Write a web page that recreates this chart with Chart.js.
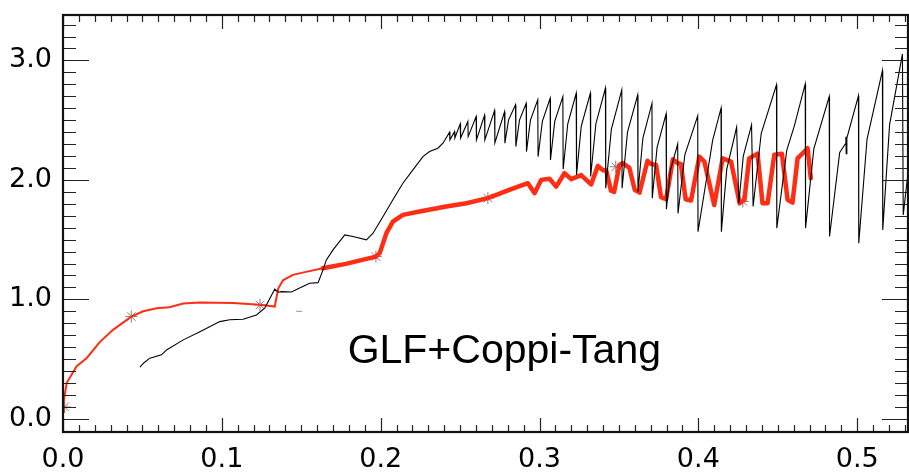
<!DOCTYPE html>
<html lang="en">
    <head>
        <meta charset="UTF-8" />
        <title>GLF+Coppi-Tang</title>
        <script src="https://cdn.jsdelivr.net/npm/chart.js@4"></script>
        <style>
            body { margin: 0; background: #fff; }
            canvas { display: block; }
        </style>
    </head>
    <body>
        <canvas id="mychart" width="909" height="472"></canvas>
        <script>
            // tick labels
            const xTickValues = [0, 0.1, 0.2, 0.3, 0.4, 0.5];
            const yTickValues = [0, 1, 2, 3];

            // black curve (simulation)
            const blackX = [
                0.0484, 0.0510, 0.0547, 0.0620, 0.0652, 0.0757, 0.0862, 0.0987, 0.1050, 0.1134,
                0.1218, 0.1270, 0.1333, 0.1355, 0.1375, 0.1438, 0.1490, 0.1553, 0.1606, 0.1637,
                0.1658, 0.1700, 0.1774, 0.1826, 0.1910, 0.1952, 0.2015, 0.2077, 0.2140, 0.2203,
                0.2266, 0.2308, 0.2360, 0.2392, 0.2434, 0.2436, 0.2465, 0.2467,
                0.2501, 0.2503, 0.2549, 0.2551, 0.2601, 0.2603, 0.2654, 0.2656, 0.2717, 0.2719,
                0.2780, 0.2782, 0.2805, 0.2849, 0.2851, 0.2874, 0.2916, 0.2918, 0.2943, 0.2989,
                0.2991, 0.3018, 0.3067, 0.3069, 0.3096, 0.3147, 0.3149, 0.3178, 0.3231, 0.3233,
                0.3263, 0.3320, 0.3322, 0.3355, 0.3415, 0.3417, 0.3452, 0.3518, 0.3520, 0.3554,
                0.3618, 0.3620, 0.3651, 0.3708, 0.3710, 0.3740, 0.3797, 0.3799, 0.3824, 0.3870,
                0.3872, 0.3915, 0.3996, 0.3998, 0.4048, 0.4090, 0.4143, 0.4145, 0.4179, 0.4241,
                0.4255, 0.4283, 0.4335, 0.4345, 0.4396, 0.4492, 0.4494, 0.4557, 0.4604, 0.4673,
                0.4675, 0.4727, 0.4824, 0.4826, 0.4890, 0.4925, 0.4929, 0.4931, 0.4935, 0.5008,
                0.5010, 0.5062, 0.5159, 0.5161, 0.5204, 0.5285, 0.5290, 0.5320
            ];
            const blackY = [
                0.432, 0.470, 0.508, 0.536, 0.577, 0.661, 0.730, 0.814, 0.830, 0.834,
                0.870, 0.926, 1.085, 1.060, 1.065, 1.062, 1.095, 1.135, 1.140, 1.247,
                1.330, 1.414, 1.540, 1.526, 1.498, 1.554, 1.693, 1.833, 1.972, 2.084,
                2.195, 2.237, 2.265, 2.307, 2.400, 2.335, 2.404, 2.350,
                2.469, 2.350, 2.488, 2.362, 2.530, 2.335, 2.540, 2.335, 2.580, 2.310,
                2.570, 2.307, 2.500, 2.628, 2.280, 2.500, 2.640, 2.237, 2.500, 2.670,
                2.195, 2.490, 2.683, 2.167, 2.490, 2.697, 2.089, 2.470, 2.725, 2.042,
                2.450, 2.725, 2.028, 2.470, 2.767, 1.930, 2.420, 2.753, 1.930, 2.400,
                2.710, 1.902, 2.350, 2.640, 1.847, 2.270, 2.552, 1.755, 2.080, 2.300,
                1.720, 2.210, 2.536, 1.567, 1.980, 2.330, 2.600, 1.567, 2.090, 2.440,
                1.805, 2.200, 2.460, 1.777, 2.390, 2.795, 1.596, 2.250, 2.450, 2.803,
                1.596, 2.260, 2.697, 1.526, 2.230, 2.300, 2.360, 2.220, 2.350, 2.703,
                1.470, 2.340, 2.914, 1.580, 2.460, 3.054, 1.707, 2.060
            ];

            // red curve (GLF+Coppi-Tang), thin part then thick part
            const redThinX = [
                0.0000, 0.0005, 0.0023, 0.0086, 0.0150, 0.0230, 0.0315, 0.0430, 0.0505, 0.0590,
                0.0670, 0.0757, 0.0860, 0.1070, 0.1240, 0.1333, 0.1355, 0.1385, 0.1447, 0.1530,
                0.1635
            ];
            const redThinY = [
                0.060, 0.150, 0.300, 0.440, 0.510, 0.640, 0.745, 0.856, 0.900, 0.926,
                0.935, 0.965, 0.973, 0.970, 0.954, 0.940, 1.090, 1.160, 1.205, 1.230,
                1.260
            ];
            const redThickX = [
                0.1635, 0.1780, 0.1970, 0.1994, 0.2036, 0.2077, 0.2140, 0.2245, 0.2413, 0.2540,
                0.2675, 0.2810, 0.2927, 0.2969, 0.3010, 0.3063, 0.3105, 0.3157, 0.3200, 0.3262,
                0.3325, 0.3367, 0.3400, 0.3420, 0.3450, 0.3470, 0.3503, 0.3524, 0.3566, 0.3600,
                0.3630, 0.3680, 0.3700, 0.3734, 0.3765, 0.3797, 0.3840, 0.3870, 0.3890, 0.3920,
                0.3954, 0.4006, 0.4038, 0.4100, 0.4153, 0.4206, 0.4260, 0.4290, 0.4320, 0.4373,
                0.4404, 0.4436, 0.4478, 0.4526, 0.4562, 0.4593, 0.4625, 0.4688, 0.4708
            ];
            const redThickY = [
                1.260, 1.297, 1.358, 1.387, 1.554, 1.650, 1.707, 1.735, 1.777, 1.805,
                1.847, 1.916, 1.972, 1.889, 2.000, 2.010, 1.944, 2.056, 2.006, 2.040,
                1.962, 2.117, 2.080, 2.080, 1.910, 1.900, 2.125, 2.140, 2.100, 1.916,
                1.894, 2.160, 2.134, 2.125, 1.855, 1.838, 2.172, 2.140, 2.134, 1.838,
                1.827, 2.195, 2.153, 1.790, 2.180, 2.153, 1.805, 1.833, 2.180, 2.220,
                1.805, 1.805, 2.210, 2.218, 1.833, 1.810, 2.180, 2.265, 2.014
            ];

            // grey asterisk markers and the lone dash
            const starX = [0.0010, 0.0430, 0.1240, 0.1970, 0.2675, 0.3480, 0.4280];
            const starY = [0.100, 0.856, 0.954, 1.358, 1.847, 2.110, 1.820];
            const dashX = [0.1487];
            const dashY = [0.900];

            const label = "GLF+Coppi-Tang";
            const labelX = 0.1792;
            const labelY = 0.469;

            function pts(xs, ys) {
                return xs.map((x, i) => ({ x: x, y: ys[i] }));
            }

            function noPad(s) {
                s.paddingTop = 0;
                s.paddingBottom = 0;
                s.paddingLeft = 0;
                s.paddingRight = 0;
            }

            const frame = {
                id: 'frame',
                afterDraw(chart) {
                    const c = chart.ctx;
                    const a = chart.chartArea;
                    const xs = chart.scales.x;
                    const ys = chart.scales.y;
                    c.save();
                    c.strokeStyle = '#222';
                    c.lineWidth = 1.2;
                    c.beginPath();
                    for (let i = 0; i <= 53; i++) {
                        const px = Math.round(xs.getPixelForValue(i / 100)) + 0.5;
                        const len = (i % 10 === 0) ? 14 : 7;
                        c.moveTo(px, a.bottom); c.lineTo(px, a.bottom - len);
                        c.moveTo(px, a.top); c.lineTo(px, a.top + len);
                    }
                    for (let i = -1; i <= 33; i++) {
                        const py = Math.round(ys.getPixelForValue(i / 10)) + 0.5;
                        const len = (i % 10 === 0) ? 26 : 13;
                        c.moveTo(a.left, py); c.lineTo(a.left + len, py);
                        c.moveTo(a.right, py); c.lineTo(a.right - len, py);
                    }
                    c.stroke();
                    c.lineWidth = 2.2;
                    c.strokeStyle = '#111';
                    c.strokeRect(a.left, a.top, a.right - a.left, a.bottom - a.top);

                    c.fillStyle = '#000';
                    c.font = '41px "Liberation Sans", Arial, sans-serif';
                    c.textBaseline = 'alphabetic';
                    c.textAlign = 'left';
                    c.fillText(label, xs.getPixelForValue(labelX), ys.getPixelForValue(labelY));
                    c.restore();
                }
            };

            const ctx = document.getElementById("mychart").getContext("2d");

            const tickFont = { family: '"DejaVu Sans", sans-serif', size: 27 };

            const myChart = new Chart(ctx, {
                type: 'line',
                data: {
                    datasets: [
                        {
                            data: pts(blackX, blackY),
                            borderColor: '#000',
                            borderWidth: 1.1,
                            pointRadius: 0,
                            tension: 0
                        },
                        {
                            data: pts(redThinX, redThinY),
                            borderColor: 'rgb(255, 45, 20)',
                            borderWidth: 2,
                            pointRadius: 0,
                            tension: 0
                        },
                        {
                            data: pts(redThickX, redThickY),
                            borderColor: 'rgb(255, 45, 20)',
                            borderWidth: 4.5,
                            borderJoinStyle: 'round',
                            borderCapStyle: 'round',
                            pointRadius: 0,
                            tension: 0
                        },
                        {
                            data: pts(starX, starY),
                            showLine: false,
                            pointStyle: 'star',
                            pointRadius: 6,
                            pointBorderColor: '#808080',
                            pointBorderWidth: 1,
                            pointBackgroundColor: 'transparent'
                        },
                        {
                            data: pts(dashX, dashY),
                            showLine: false,
                            pointStyle: 'line',
                            pointRadius: 3,
                            pointBorderColor: '#909090',
                            pointBorderWidth: 1
                        }
                    ]
                },
                options: {
                    responsive: false,
                    animation: false,
                    devicePixelRatio: 1,
                    layout: { autoPadding: false, padding: { top: 15, right: 1, left: 0, bottom: 0 } },
                    plugins: {
                        legend: { display: false },
                        tooltip: { enabled: false }
                    },
                    scales: {
                        x: {
                            type: 'linear',
                            min: 0,
                            max: 0.532,
                            grid: { display: false, drawTicks: false },
                            border: { display: false },
                            ticks: {
                                color: '#000',
                                font: tickFont,
                                padding: 12,
                                maxRotation: 0,
                                callback: v => v.toFixed(1)
                            },
                            afterBuildTicks: s => { s.ticks = xTickValues.map(v => ({ value: v })); },
                            afterFit: s => { s.height = 40; noPad(s); }
                        },
                        y: {
                            type: 'linear',
                            min: -0.11,
                            max: 3.38,
                            grid: { display: false, drawTicks: false },
                            border: { display: false },
                            ticks: {
                                color: '#000',
                                font: tickFont,
                                padding: 11,
                                callback: v => v.toFixed(1)
                            },
                            afterBuildTicks: s => { s.ticks = yTickValues.map(v => ({ value: v })); },
                            afterFit: s => { s.width = 63; noPad(s); }
                        }
                    }
                },
                plugins: [frame]
            });
        </script>
    </body>
</html>
